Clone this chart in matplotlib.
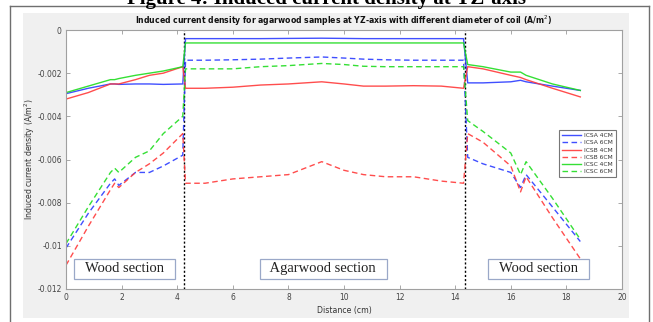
import matplotlib
matplotlib.use("Agg")
import matplotlib.pyplot as plt
from matplotlib.patches import Rectangle
from matplotlib.lines import Line2D

W, H = 653, 322

distance = [0, 0.8, 1.6, 1.75, 1.9, 2.5, 3.0, 3.5, 4.2, 4.3, 5.0, 6.0, 7.0, 8.0,
            9.2, 10.0, 10.7, 11.5, 12.5, 13.5, 14.3, 14.45, 15.0, 16.0, 16.35,
            16.55, 17.5, 18.5]

icsa_4cm = [-0.00295, -0.0027, -0.0025, -0.0025, -0.00252, -0.0025, -0.0025,
            -0.00252, -0.0025, -0.0004, -0.0004, -0.0004, -0.0004, -0.00039,
            -0.00038, -0.00039, -0.0004, -0.0004, -0.0004, -0.0004, -0.0004,
            -0.00245, -0.00245, -0.0024, -0.00233, -0.0024, -0.0026, -0.0028]
icsa_6cm = [-0.0101, -0.0085, -0.0071, -0.0069, -0.0072, -0.0066, -0.0066,
            -0.0063, -0.0058, -0.0014, -0.0014, -0.00138, -0.00135, -0.0013,
            -0.00125, -0.0013, -0.00135, -0.00138, -0.0014, -0.0014, -0.0014,
            -0.0059, -0.0062, -0.0066, -0.0073, -0.0067, -0.0082, -0.0098]
icsb_4cm = [-0.0032, -0.0029, -0.0025, -0.0025, -0.0025, -0.0023, -0.0021,
            -0.002, -0.0017, -0.0027, -0.0027, -0.00265, -0.00255, -0.0025,
            -0.0024, -0.0025, -0.0026, -0.0026, -0.00258, -0.0026, -0.0027,
            -0.0017, -0.0018, -0.0021, -0.0022, -0.0023, -0.0027, -0.0031]
icsb_6cm = [-0.0109, -0.0091, -0.0074, -0.0071, -0.0073, -0.0066, -0.0062,
            -0.0057, -0.0048, -0.0071, -0.0071, -0.0069, -0.0068, -0.0067,
            -0.0061, -0.0065, -0.0067, -0.0068, -0.0068, -0.0070, -0.0071,
            -0.0048, -0.0052, -0.0063, -0.0075, -0.0068, -0.0087, -0.0106]
icsc_4cm = [-0.0029, -0.0026, -0.0023, -0.0023, -0.00225, -0.0021, -0.002,
            -0.0019, -0.0017, -0.0006, -0.0006, -0.0006, -0.0006, -0.0006,
            -0.0006, -0.0006, -0.0006, -0.0006, -0.0006, -0.0006, -0.0006,
            -0.0016, -0.0017, -0.00195, -0.00195, -0.0021, -0.0025, -0.0028]
icsc_6cm = [-0.0099, -0.0082, -0.0066, -0.0064, -0.0066, -0.0059, -0.0056,
            -0.0048, -0.0040, -0.0018, -0.0018, -0.0018, -0.0017, -0.00165,
            -0.00155, -0.0016, -0.00168, -0.0017, -0.0017, -0.0017, -0.0017,
            -0.0042, -0.0047, -0.0057, -0.0067, -0.0061, -0.0078, -0.0097]

series_labels = ["ICSA 4CM", "ICSA 6CM", "ICSB 4CM", "ICSB 6CM", "ICSC 4CM", "ICSC 6CM"]
section_bounds = [4.25, 14.35]
section_labels = ["Wood section", "Agarwood section", "Wood section"]
section_centers = [2.1, 9.25, 17.0]
section_y = -0.01106

x_ticks = list(range(0, 21, 2))
y_ticks = [0, -0.002, -0.004, -0.006, -0.008, -0.01, -0.012]
y_tick_labels = ["0", "-0.002", "-0.004", "-0.006", "-0.008", "-0.01", "-0.012"]

fig = plt.figure(figsize=(W / 100, H / 100), dpi=100)
fig.patch.set_facecolor("white")

def fx(px):
    return px / W

def fy(py):
    return 1 - py / H

# grey matlab panel
fig.add_artist(Rectangle((fx(23), fy(318)), fx(629) - fx(23), fy(13) - fy(318),
                         transform=fig.transFigure, facecolor="#f0f0f0",
                         edgecolor="none", zorder=0))
# outer page border
for (xa, ya, xb, yb) in [(10, 6, 10, 322), (10, 6, 649, 6), (649, 6, 649, 322)]:
    fig.add_artist(Line2D([fx(xa), fx(xb)], [fy(ya), fy(yb)], transform=fig.transFigure,
                          color="#6f6f6f", lw=1.0))

fig.text(0.5, fy(3.6), "Figure 4: Induced current density at YZ-axis",
         ha="center", va="baseline", fontsize=15, fontweight="bold",
         family="Liberation Serif", color="black")

ax = fig.add_axes([fx(66), fy(289), fx(622) - fx(66), fy(30) - fy(289)])
ax.set_facecolor("white")

blue, red, green = "#2b3cff", "#ff3a3a", "#1fdc1f"
styles = [(icsa_4cm, blue, "-"), (icsa_6cm, blue, "--"),
          (icsb_4cm, red, "-"), (icsb_6cm, red, "--"),
          (icsc_4cm, green, "-"), (icsc_6cm, green, "--")]
handles = []
for (vals, col, ls), lab in zip(styles, series_labels):
    h, = ax.plot(distance, vals, color=col, ls=ls, lw=1.0, label=lab,
                 dashes=(4, 2.5) if ls == "--" else (None, None), alpha=0.9)
    handles.append(h)

for xb in section_bounds:
    ax.axvline(xb, color="black", ls=(0, (1.5, 1.5)), lw=1.0, zorder=1)

for cx, lab in zip(section_centers, section_labels):
    ax.text(cx, section_y, "  " + lab + "  ", ha="center", va="center", fontsize=10.5,
            family="Liberation Serif", color="#222222",
            bbox=dict(boxstyle="square,pad=0.25", facecolor="white",
                      edgecolor="#9aa8c8", lw=0.9))

ax.set_xlim(0, 20)
ax.set_ylim(-0.012, 0)
ax.set_xticks(x_ticks)
ax.set_xticklabels([str(t) for t in x_ticks])
ax.set_yticks(y_ticks)
ax.set_yticklabels(y_tick_labels)
ax.tick_params(direction="in", top=True, right=True, length=3, width=0.6,
               labelsize=5.5, colors="#9a9a9a", labelcolor="#444444", pad=3)
for s in ax.spines.values():
    s.set_color("#a0a0a0")
    s.set_linewidth(0.8)

ax.set_title("Induced current density for agarwood samples at YZ-axis with different diameter of coil (A/m$^2$)",
             fontsize=5.6, fontweight="bold", pad=4, color="#111111")
ax.set_xlabel("Distance (cm)", fontsize=5.6, labelpad=3, color="#333333")
ax.set_ylabel("Induced current density (A/m$^2$)", fontsize=5.6, labelpad=0, color="#333333")

leg = ax.legend(handles=handles, loc="upper left", bbox_to_anchor=(0.887, 0.614),
                borderaxespad=0, fontsize=4.3, frameon=True, fancybox=False,
                handlelength=3.2, handletextpad=0.5, labelspacing=0.35,
                borderpad=0.5)
leg.get_frame().set_edgecolor("#555555")
leg.get_frame().set_linewidth(0.8)
for t in leg.get_texts():
    t.set_color("#333333")

fig.savefig("out.png", dpi=100, facecolor=fig.get_facecolor())
